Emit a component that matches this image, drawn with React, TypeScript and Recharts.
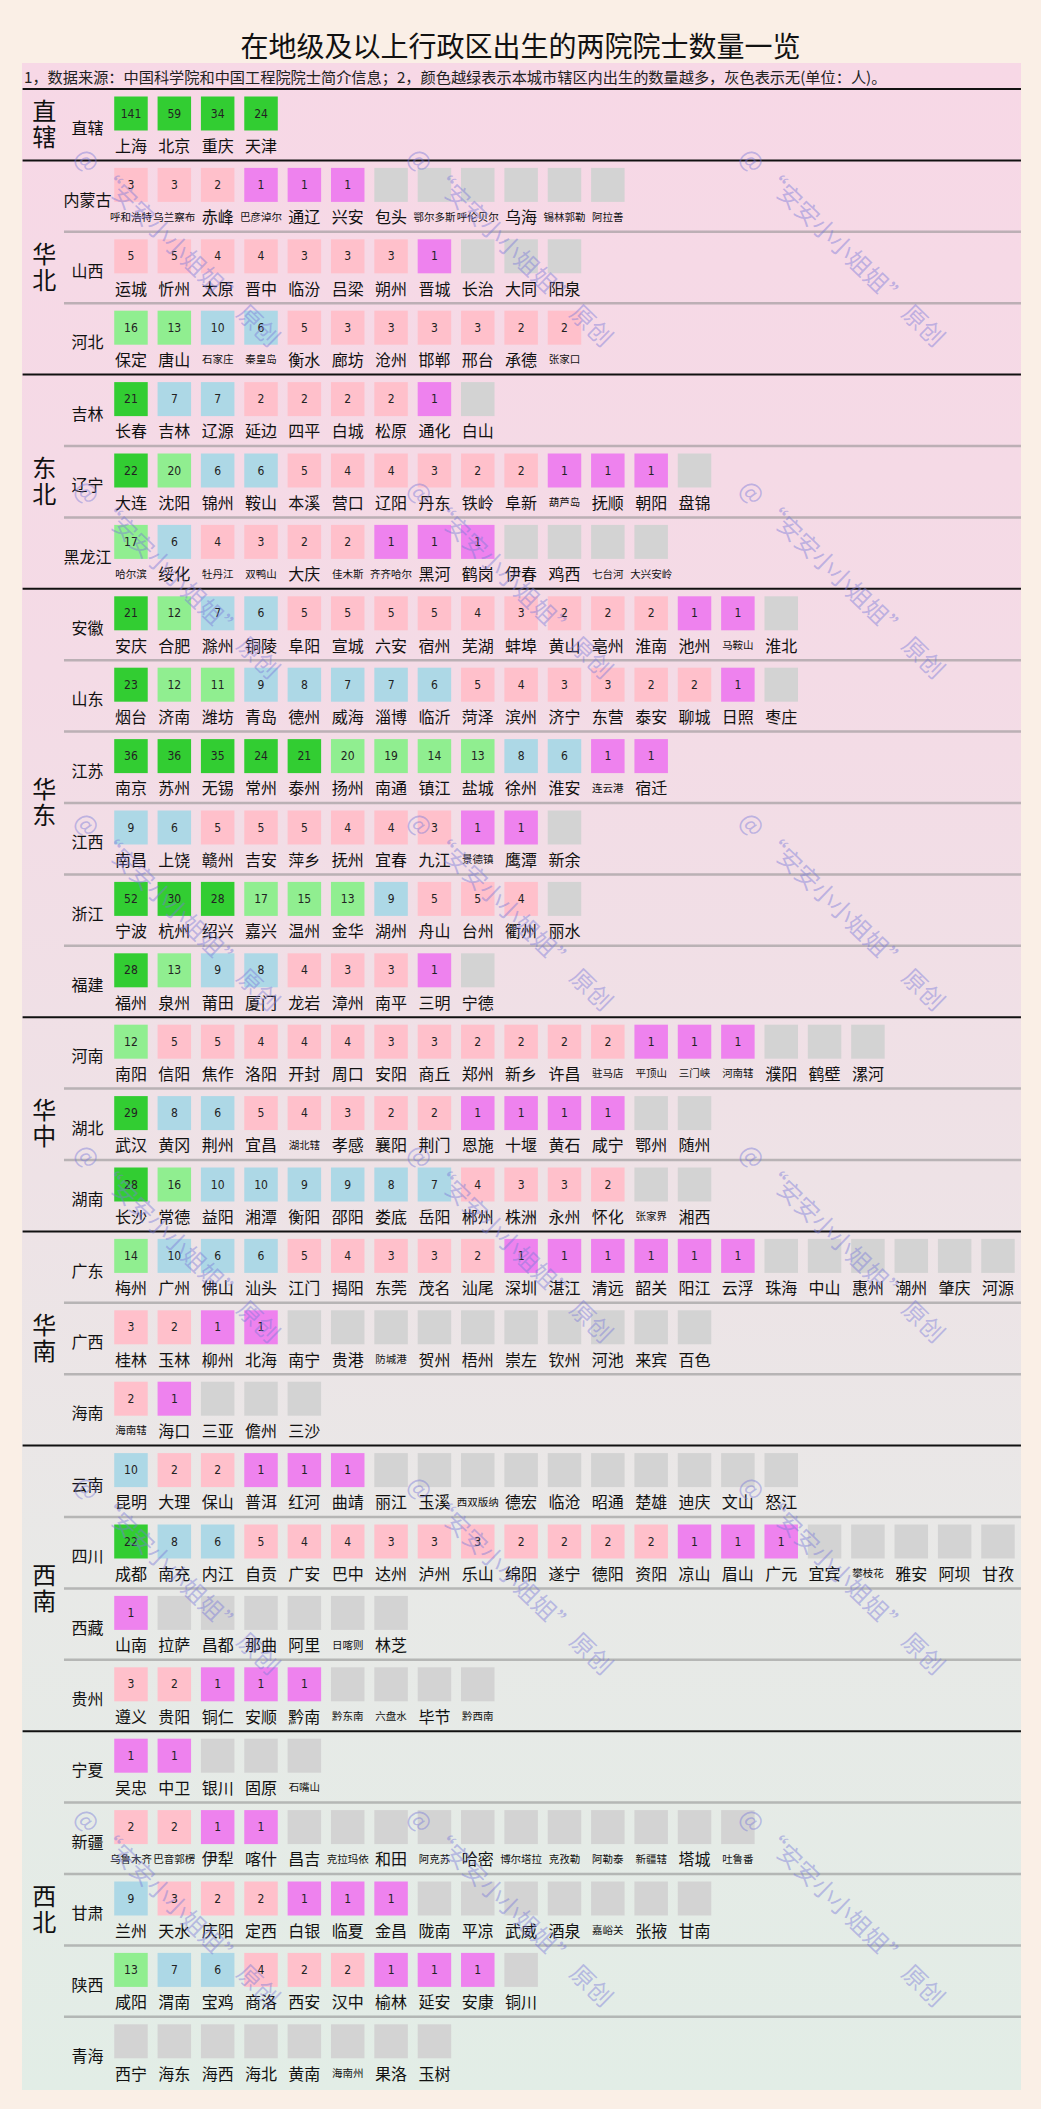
import React from 'react';
import { ScatterChart, Scatter, XAxis, YAxis, ReferenceLine } from 'recharts';

// ---------------- data ----------------
const regionNames = ['直辖', '华北', '东北', '华东', '华中', '华南', '西南', '西北'];
const regionProvinces = [
  ['直辖'],
  ['内蒙古', '山西', '河北'],
  ['吉林', '辽宁', '黑龙江'],
  ['安徽', '山东', '江苏', '江西', '浙江', '福建'],
  ['河南', '湖北', '湖南'],
  ['广东', '广西', '海南'],
  ['云南', '四川', '西藏', '贵州'],
  ['宁夏', '新疆', '甘肃', '陕西', '青海'],
];

const zhixiaCities = ['上海', '北京', '重庆', '天津'];
const zhixiaCounts = [141, 59, 34, 24];

const neimengguCities = ['呼和浩特', '乌兰察布', '赤峰', '巴彦淖尔', '通辽', '兴安', '包头', '鄂尔多斯', '呼伦贝尔', '乌海', '锡林郭勒', '阿拉善'];
const neimengguCounts = [3, 3, 2, 1, 1, 1, 0, 0, 0, 0, 0, 0];
const shanxiCities = ['运城', '忻州', '太原', '晋中', '临汾', '吕梁', '朔州', '晋城', '长治', '大同', '阳泉'];
const shanxiCounts = [5, 5, 4, 4, 3, 3, 3, 1, 0, 0, 0];
const hebeiCities = ['保定', '唐山', '石家庄', '秦皇岛', '衡水', '廊坊', '沧州', '邯郸', '邢台', '承德', '张家口'];
const hebeiCounts = [16, 13, 10, 6, 5, 3, 3, 3, 3, 2, 2];

const jilinCities = ['长春', '吉林', '辽源', '延边', '四平', '白城', '松原', '通化', '白山'];
const jilinCounts = [21, 7, 7, 2, 2, 2, 2, 1, 0];
const liaoningCities = ['大连', '沈阳', '锦州', '鞍山', '本溪', '营口', '辽阳', '丹东', '铁岭', '阜新', '葫芦岛', '抚顺', '朝阳', '盘锦'];
const liaoningCounts = [22, 20, 6, 6, 5, 4, 4, 3, 2, 2, 1, 1, 1, 0];
const heilongjiangCities = ['哈尔滨', '绥化', '牡丹江', '双鸭山', '大庆', '佳木斯', '齐齐哈尔', '黑河', '鹤岗', '伊春', '鸡西', '七台河', '大兴安岭'];
const heilongjiangCounts = [17, 6, 4, 3, 2, 2, 1, 1, 1, 0, 0, 0, 0];

const anhuiCities = ['安庆', '合肥', '滁州', '铜陵', '阜阳', '宣城', '六安', '宿州', '芜湖', '蚌埠', '黄山', '亳州', '淮南', '池州', '马鞍山', '淮北'];
const anhuiCounts = [21, 12, 7, 6, 5, 5, 5, 5, 4, 3, 2, 2, 2, 1, 1, 0];
const shandongCities = ['烟台', '济南', '潍坊', '青岛', '德州', '威海', '淄博', '临沂', '菏泽', '滨州', '济宁', '东营', '泰安', '聊城', '日照', '枣庄'];
const shandongCounts = [23, 12, 11, 9, 8, 7, 7, 6, 5, 4, 3, 3, 2, 2, 1, 0];
const jiangsuCities = ['南京', '苏州', '无锡', '常州', '泰州', '扬州', '南通', '镇江', '盐城', '徐州', '淮安', '连云港', '宿迁'];
const jiangsuCounts = [36, 36, 35, 24, 21, 20, 19, 14, 13, 8, 6, 1, 1];
const jiangxiCities = ['南昌', '上饶', '赣州', '吉安', '萍乡', '抚州', '宜春', '九江', '景德镇', '鹰潭', '新余'];
const jiangxiCounts = [9, 6, 5, 5, 5, 4, 4, 3, 1, 1, 0];
const zhejiangCities = ['宁波', '杭州', '绍兴', '嘉兴', '温州', '金华', '湖州', '舟山', '台州', '衢州', '丽水'];
const zhejiangCounts = [52, 30, 28, 17, 15, 13, 9, 5, 5, 4, 0];
const fujianCities = ['福州', '泉州', '莆田', '厦门', '龙岩', '漳州', '南平', '三明', '宁德'];
const fujianCounts = [28, 13, 9, 8, 4, 3, 3, 1, 0];

const henanCities = ['南阳', '信阳', '焦作', '洛阳', '开封', '周口', '安阳', '商丘', '郑州', '新乡', '许昌', '驻马店', '平顶山', '三门峡', '河南辖', '濮阳', '鹤壁', '漯河'];
const henanCounts = [12, 5, 5, 4, 4, 4, 3, 3, 2, 2, 2, 2, 1, 1, 1, 0, 0, 0];
const hubeiCities = ['武汉', '黄冈', '荆州', '宜昌', '湖北辖', '孝感', '襄阳', '荆门', '恩施', '十堰', '黄石', '咸宁', '鄂州', '随州'];
const hubeiCounts = [29, 8, 6, 5, 4, 3, 2, 2, 1, 1, 1, 1, 0, 0];
const hunanCities = ['长沙', '常德', '益阳', '湘潭', '衡阳', '邵阳', '娄底', '岳阳', '郴州', '株洲', '永州', '怀化', '张家界', '湘西'];
const hunanCounts = [28, 16, 10, 10, 9, 9, 8, 7, 4, 3, 3, 2, 0, 0];

const guangdongCities = ['梅州', '广州', '佛山', '汕头', '江门', '揭阳', '东莞', '茂名', '汕尾', '深圳', '湛江', '清远', '韶关', '阳江', '云浮', '珠海', '中山', '惠州', '潮州', '肇庆', '河源'];
const guangdongCounts = [14, 10, 6, 6, 5, 4, 3, 3, 2, 1, 1, 1, 1, 1, 1, 0, 0, 0, 0, 0, 0];
const guangxiCities = ['桂林', '玉林', '柳州', '北海', '南宁', '贵港', '防城港', '贺州', '梧州', '崇左', '钦州', '河池', '来宾', '百色'];
const guangxiCounts = [3, 2, 1, 1, 0, 0, 0, 0, 0, 0, 0, 0, 0, 0];
const hainanCities = ['海南辖', '海口', '三亚', '儋州', '三沙'];
const hainanCounts = [2, 1, 0, 0, 0];

const yunnanCities = ['昆明', '大理', '保山', '普洱', '红河', '曲靖', '丽江', '玉溪', '西双版纳', '德宏', '临沧', '昭通', '楚雄', '迪庆', '文山', '怒江'];
const yunnanCounts = [10, 2, 2, 1, 1, 1, 0, 0, 0, 0, 0, 0, 0, 0, 0, 0];
const sichuanCities = ['成都', '南充', '内江', '自贡', '广安', '巴中', '达州', '泸州', '乐山', '绵阳', '遂宁', '德阳', '资阳', '凉山', '眉山', '广元', '宜宾', '攀枝花', '雅安', '阿坝', '甘孜'];
const sichuanCounts = [22, 8, 6, 5, 4, 4, 3, 3, 3, 2, 2, 2, 2, 1, 1, 1, 0, 0, 0, 0, 0];
const xizangCities = ['山南', '拉萨', '昌都', '那曲', '阿里', '日喀则', '林芝'];
const xizangCounts = [1, 0, 0, 0, 0, 0, 0];
const guizhouCities = ['遵义', '贵阳', '铜仁', '安顺', '黔南', '黔东南', '六盘水', '毕节', '黔西南'];
const guizhouCounts = [3, 2, 1, 1, 1, 0, 0, 0, 0];

const ningxiaCities = ['吴忠', '中卫', '银川', '固原', '石嘴山'];
const ningxiaCounts = [1, 1, 0, 0, 0];
const xinjiangCities = ['乌鲁木齐', '巴音郭楞', '伊犁', '喀什', '昌吉', '克拉玛依', '和田', '阿克苏', '哈密', '博尔塔拉', '克孜勒', '阿勒泰', '新疆辖', '塔城', '吐鲁番'];
const xinjiangCounts = [2, 2, 1, 1, 0, 0, 0, 0, 0, 0, 0, 0, 0, 0, 0];
const gansuCities = ['兰州', '天水', '庆阳', '定西', '白银', '临夏', '金昌', '陇南', '平凉', '武威', '酒泉', '嘉峪关', '张掖', '甘南'];
const gansuCounts = [9, 3, 2, 2, 1, 1, 1, 0, 0, 0, 0, 0, 0, 0];
const shaanxiCities = ['咸阳', '渭南', '宝鸡', '商洛', '西安', '汉中', '榆林', '延安', '安康', '铜川'];
const shaanxiCounts = [13, 7, 6, 4, 2, 2, 1, 1, 1, 0];
const qinghaiCities = ['西宁', '海东', '海西', '海北', '黄南', '海南州', '果洛', '玉树'];
const qinghaiCounts = [0, 0, 0, 0, 0, 0, 0, 0];

const provinceData: Record<string, [string[], number[]]> = {
  直辖: [zhixiaCities, zhixiaCounts],
  内蒙古: [neimengguCities, neimengguCounts],
  山西: [shanxiCities, shanxiCounts],
  河北: [hebeiCities, hebeiCounts],
  吉林: [jilinCities, jilinCounts],
  辽宁: [liaoningCities, liaoningCounts],
  黑龙江: [heilongjiangCities, heilongjiangCounts],
  安徽: [anhuiCities, anhuiCounts],
  山东: [shandongCities, shandongCounts],
  江苏: [jiangsuCities, jiangsuCounts],
  江西: [jiangxiCities, jiangxiCounts],
  浙江: [zhejiangCities, zhejiangCounts],
  福建: [fujianCities, fujianCounts],
  河南: [henanCities, henanCounts],
  湖北: [hubeiCities, hubeiCounts],
  湖南: [hunanCities, hunanCounts],
  广东: [guangdongCities, guangdongCounts],
  广西: [guangxiCities, guangxiCounts],
  海南: [hainanCities, hainanCounts],
  云南: [yunnanCities, yunnanCounts],
  四川: [sichuanCities, sichuanCounts],
  西藏: [xizangCities, xizangCounts],
  贵州: [guizhouCities, guizhouCounts],
  宁夏: [ningxiaCities, ningxiaCounts],
  新疆: [xinjiangCities, xinjiangCounts],
  甘肃: [gansuCities, gansuCounts],
  陕西: [shaanxiCities, shaanxiCounts],
  青海: [qinghaiCities, qinghaiCounts],
};

const titleText = '在地级及以上行政区出生的两院院士数量一览';
const noteText = '1，数据来源：中国科学院和中国工程院院士简介信息；2，颜色越绿表示本城市辖区内出生的数量越多，灰色表示无(单位：人)。';
const watermarkText = '@ “安安小小姐姐” 原创';

// ---------------- build series ----------------
type Cell = { x: number; y: number; name: string; value: number };
const cells: Cell[] = [];
const provinceLabels: { x: number; y: number; name: string }[] = [];
const regionLabels: { x: number; y: number; name: string }[] = [];
const grayLines: number[] = [];
const blackLines: number[] = [0];
let rowIdx = 0;
regionNames.forEach((rn, ri) => {
  const provs = regionProvinces[ri];
  regionLabels.push({ x: -2, y: rowIdx + provs.length / 2, name: rn });
  provs.forEach((pn, pi) => {
    const [cities, counts] = provinceData[pn];
    if (pi > 0) grayLines.push(rowIdx);
    provinceLabels.push({ x: -1, y: rowIdx + 0.5, name: pn });
    cities.forEach((c, i) => cells.push({ x: i, y: rowIdx + 0.5, name: c, value: counts[i] }));
    rowIdx += 1;
  });
  if (ri < regionNames.length - 1) blackLines.push(rowIdx);
});
const NROWS = rowIdx;

// ---------------- layout ----------------
const W = 1041;
const H = 2109;
const TOP = 89;
const ROW_H = 71.4;
const PITCH = 43.35;
const LEFT = 22.6;
const X_MIN = -2.5;
const X_MAX = 20.5;
const RIGHT = W - (LEFT + (X_MAX - X_MIN) * PITCH);
const BOTTOM = H - (TOP + NROWS * ROW_H);

const CJK = "'Noto Sans CJK SC','Noto Sans',sans-serif";
const NUM = "'Liberation Sans Narrow','DejaVu Sans Condensed','Liberation Sans',sans-serif";

function colorFor(v: number) {
  if (v >= 21) return '#32CD32';
  if (v >= 11) return '#90EE90';
  if (v >= 6) return '#ADD8E6';
  if (v >= 2) return '#FFC0CB';
  if (v >= 1) return '#EE82EE';
  return '#D3D3D3';
}

const CellShape = (props: any) => {
  const { cx, cy, payload } = props;
  if (cx == null || cy == null) return <g />;
  const bw = 33.5;
  const bh = 34;
  const boxCy = cy - 11.2;
  const small = payload.name.length >= 3;
  return (
    <g>
      <rect x={cx - bw / 2} y={boxCy - bh / 2} width={bw} height={bh} fill={colorFor(payload.value)} />
      {payload.value > 0 && (
        <text x={cx} y={boxCy} textAnchor="middle" dominantBaseline="central" fontSize={12} fontFamily={NUM} fill="#222">
          {payload.value}
        </text>
      )}
      <text x={cx} y={cy + 20} textAnchor="middle" dominantBaseline="central" fontSize={small ? 10.5 : 16} fontFamily={CJK} fill="#111">
        {payload.name}
      </text>
    </g>
  );
};

const ProvinceShape = (props: any) => {
  const { cx, cy, payload } = props;
  if (cx == null || cy == null) return <g />;
  return (
    <text x={cx} y={cy + 2.5} textAnchor="middle" dominantBaseline="central" fontSize={16} fontFamily={CJK} fill="#111">
      {payload.name}
    </text>
  );
};

const RegionShape = (props: any) => {
  const { cx, cy, payload } = props;
  if (cx == null || cy == null) return <g />;
  return (
    <text
      x={cx}
      y={cy}
      textAnchor="middle"
      fontSize={24}
      fontFamily={CJK}
      fill="#111"
      style={{ writingMode: 'vertical-rl', letterSpacing: 2 } as any}
    >
      {payload.name}
    </text>
  );
};

const wmXs = [80, 413, 745];
const wmYs = [151, 483, 815, 1147, 1479, 1811];

export default function App() {
  return (
    <div style={{ position: 'absolute', left: 0, top: 0, width: W, height: H, background: '#faefe6', overflow: 'hidden' }}>
      <div
        style={{
          position: 'absolute',
          left: 22,
          top: 63,
          width: 999,
          height: 2027,
          background: 'linear-gradient(180deg, #f7d8e6 0%, #f4dbe6 30%, #eee2e6 55%, #e8e9e7 75%, #e2ede6 100%)',
        }}
      />
      <div
        style={{
          position: 'absolute',
          left: 0,
          top: 26,
          width: W,
          textAlign: 'center',
          fontFamily: CJK,
          fontSize: 28,
          lineHeight: '38px',
          color: '#111',
        }}
      >
        {titleText}
      </div>
      <div
        style={{
          position: 'absolute',
          left: 24,
          top: 66,
          fontFamily: CJK,
          fontSize: 15.2,
          lineHeight: '20px',
          color: '#222',
          whiteSpace: 'nowrap',
        }}
      >
        {noteText}
      </div>
      <div style={{ position: 'absolute', left: 0, top: 0 }}>
        <ScatterChart width={W} height={H} margin={{ top: TOP, bottom: BOTTOM, left: LEFT, right: RIGHT }}>
          <XAxis type="number" dataKey="x" domain={[X_MIN, X_MAX]} hide />
          <YAxis type="number" dataKey="y" domain={[0, NROWS]} reversed hide />
          {grayLines.map((r) => (
            <ReferenceLine
              key={'g' + r}
              segment={[{ x: -1.545, y: r }, { x: 20.53, y: r }]}
              stroke="#8c8c8c"
              strokeOpacity={0.55}
              strokeWidth={2.5}
              ifOverflow="visible"
            />
          ))}
          {blackLines.map((r) => (
            <ReferenceLine
              key={'b' + r}
              segment={[{ x: X_MIN, y: r }, { x: 20.53, y: r }]}
              stroke="#111"
              strokeWidth={2}
              ifOverflow="visible"
            />
          ))}
          <Scatter data={regionLabels} shape={RegionShape} isAnimationActive={false} />
          <Scatter data={provinceLabels} shape={ProvinceShape} isAnimationActive={false} />
          <Scatter data={cells} shape={CellShape} isAnimationActive={false} />
        </ScatterChart>
      </div>
      <svg width={W} height={H} style={{ position: 'absolute', left: 0, top: 0, pointerEvents: 'none' }}>
        {wmYs.map((y) =>
          wmXs.map((x) => (
            <text
              key={x + '-' + y}
              transform={`translate(${x},${y}) rotate(44)`}
              dominantBaseline="central"
              fontSize={24}
              fontFamily={CJK}
              fill="#7b7bd9"
              fillOpacity={0.45}
            >
              {watermarkText}
            </text>
          ))
        )}
      </svg>
    </div>
  );
}
